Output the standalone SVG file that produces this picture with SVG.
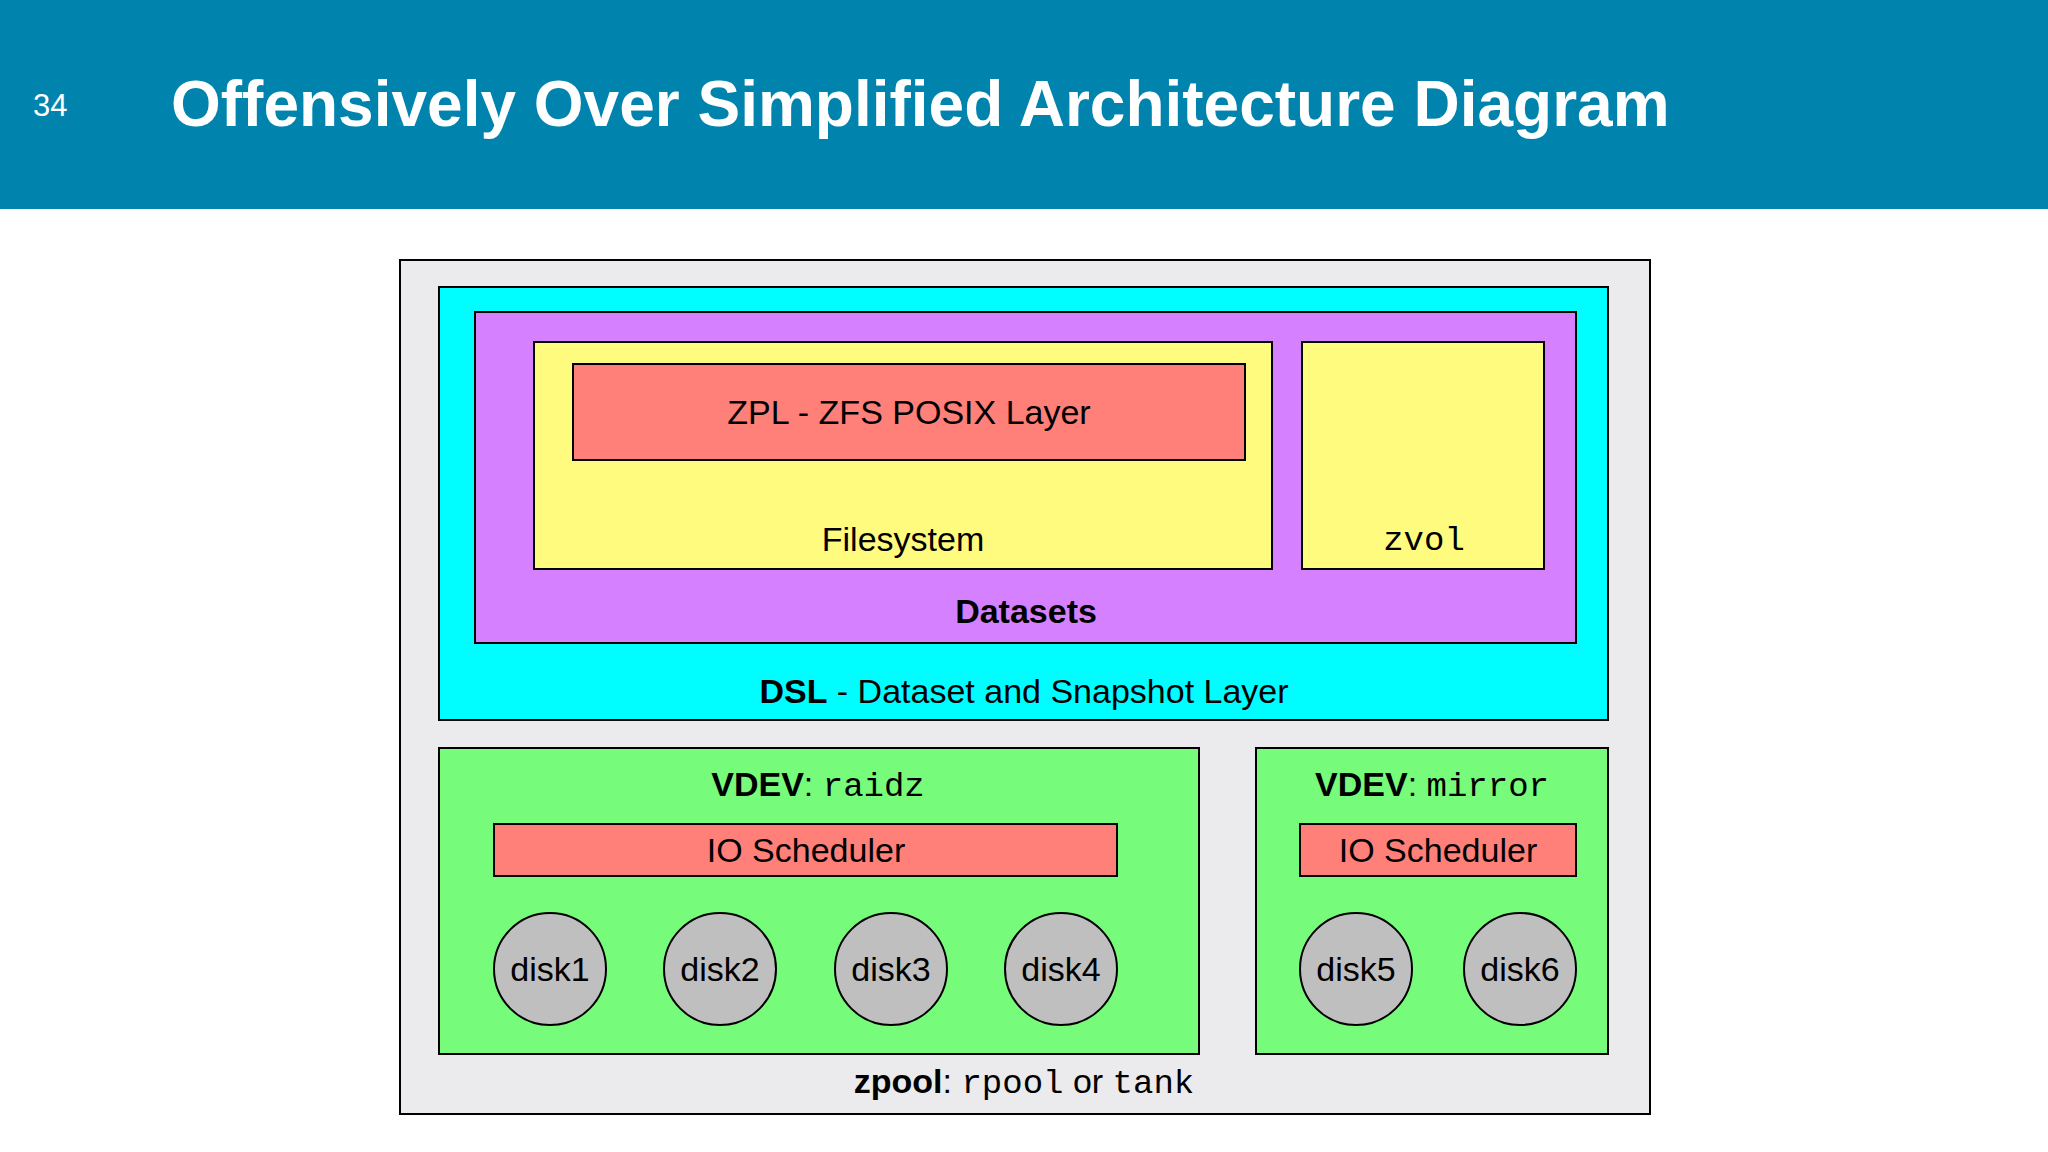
<svg xmlns="http://www.w3.org/2000/svg" width="2048" height="1152" viewBox="0 0 2048 1152">
<style>
.s{font-family:"Liberation Sans",Arial,sans-serif;font-size:34px;fill:#000;text-anchor:middle}
.m{font-family:"Liberation Mono","Courier New",monospace}
.b{font-weight:bold}
rect{stroke:#000;stroke-width:2}
circle{fill:#c0bfc0;stroke:#000;stroke-width:2}
</style>
<rect x="0" y="0" width="2048" height="209" fill="#0083ad" style="stroke:none"/>
<text x="33" y="116" font-family="Liberation Sans,Arial,sans-serif" font-size="31" fill="#fff">34</text>
<text x="171" y="126" font-family="Liberation Sans,Arial,sans-serif" font-size="64" font-weight="bold" fill="#fff">Offensively Over Simplified Architecture Diagram</text>
<g id="zpool"><rect x="400" y="260" width="1250" height="854" fill="#ebeaec"/>
<text class="s" x="1024" y="1093"><tspan class="b">zpool</tspan>: <tspan class="m">rpool</tspan> or <tspan class="m">tank</tspan></text></g>
<g id="dsl"><rect x="439" y="287" width="1169" height="433" fill="#00fdff"/>
<text class="s" x="1024" y="703"><tspan class="b">DSL</tspan> - Dataset and Snapshot Layer</text></g>
<g id="datasets"><rect x="475" y="312" width="1101" height="331" fill="#d580ff"/>
<text class="s b" x="1026" y="623">Datasets</text></g>
<g id="filesystem"><rect x="534" y="342" width="738" height="227" fill="#fffb7f"/>
<text class="s" x="903" y="551">Filesystem</text></g>
<g id="zpl"><rect x="573" y="364" width="672" height="96" fill="#ff7f79"/>
<text class="s" x="909" y="424">ZPL - ZFS POSIX Layer</text></g>
<g id="zvol"><rect x="1302" y="342" width="242" height="227" fill="#fffb7f"/>
<text class="s m" x="1424" y="550">zvol</text></g>
<g id="raidz"><rect x="439" y="748" width="760" height="306" fill="#77fb7a"/>
<text class="s" x="818" y="796"><tspan class="b">VDEV</tspan>: <tspan class="m">raidz</tspan></text>
<rect x="494" y="824" width="623" height="52" fill="#ff7f79"/>
<text class="s" x="806" y="862">IO Scheduler</text></g>
<g id="mirror"><rect x="1256" y="748" width="352" height="306" fill="#77fb7a"/>
<text class="s" x="1432" y="796"><tspan class="b">VDEV</tspan>: <tspan class="m">mirror</tspan></text>
<rect x="1300" y="824" width="276" height="52" fill="#ff7f79"/>
<text class="s" x="1438" y="862">IO Scheduler</text></g>
<g id="disk1"><circle cx="550" cy="969" r="56"/><text class="s" x="550" y="981">disk1</text></g>
<g id="disk2"><circle cx="720" cy="969" r="56"/><text class="s" x="720" y="981">disk2</text></g>
<g id="disk3"><circle cx="891" cy="969" r="56"/><text class="s" x="891" y="981">disk3</text></g>
<g id="disk4"><circle cx="1061" cy="969" r="56"/><text class="s" x="1061" y="981">disk4</text></g>
<g id="disk5"><circle cx="1356" cy="969" r="56"/><text class="s" x="1356" y="981">disk5</text></g>
<g id="disk6"><circle cx="1520" cy="969" r="56"/><text class="s" x="1520" y="981">disk6</text></g>
<g id="connectors"></g>
</svg>
